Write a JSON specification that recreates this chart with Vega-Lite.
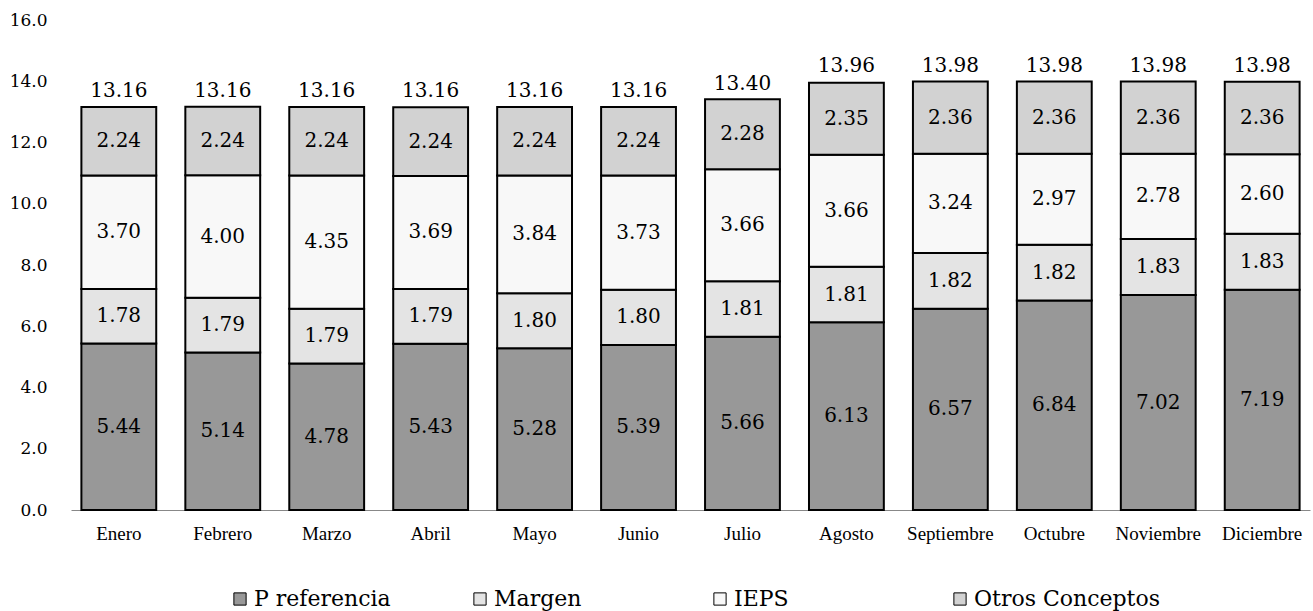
{
  "$schema": "https://vega.github.io/schema/vega-lite/v6.json",
  "width": 1239,
  "height": 490,
  "autosize": "none",
  "padding": {"left": 71, "top": 20, "right": 3, "bottom": 101},
  "background": "white",
  "config": {"view": {"stroke": null}},
  "datasets": {
    "seg": [
      {"mes": "Enero", "concepto": "P referencia", "valor": 5.44},
      {"mes": "Enero", "concepto": "Margen", "valor": 1.78},
      {"mes": "Enero", "concepto": "IEPS", "valor": 3.70},
      {"mes": "Enero", "concepto": "Otros Conceptos", "valor": 2.24},
      {"mes": "Febrero", "concepto": "P referencia", "valor": 5.14},
      {"mes": "Febrero", "concepto": "Margen", "valor": 1.79},
      {"mes": "Febrero", "concepto": "IEPS", "valor": 4.00},
      {"mes": "Febrero", "concepto": "Otros Conceptos", "valor": 2.24},
      {"mes": "Marzo", "concepto": "P referencia", "valor": 4.78},
      {"mes": "Marzo", "concepto": "Margen", "valor": 1.79},
      {"mes": "Marzo", "concepto": "IEPS", "valor": 4.35},
      {"mes": "Marzo", "concepto": "Otros Conceptos", "valor": 2.24},
      {"mes": "Abril", "concepto": "P referencia", "valor": 5.43},
      {"mes": "Abril", "concepto": "Margen", "valor": 1.79},
      {"mes": "Abril", "concepto": "IEPS", "valor": 3.69},
      {"mes": "Abril", "concepto": "Otros Conceptos", "valor": 2.24},
      {"mes": "Mayo", "concepto": "P referencia", "valor": 5.28},
      {"mes": "Mayo", "concepto": "Margen", "valor": 1.80},
      {"mes": "Mayo", "concepto": "IEPS", "valor": 3.84},
      {"mes": "Mayo", "concepto": "Otros Conceptos", "valor": 2.24},
      {"mes": "Junio", "concepto": "P referencia", "valor": 5.39},
      {"mes": "Junio", "concepto": "Margen", "valor": 1.80},
      {"mes": "Junio", "concepto": "IEPS", "valor": 3.73},
      {"mes": "Junio", "concepto": "Otros Conceptos", "valor": 2.24},
      {"mes": "Julio", "concepto": "P referencia", "valor": 5.66},
      {"mes": "Julio", "concepto": "Margen", "valor": 1.81},
      {"mes": "Julio", "concepto": "IEPS", "valor": 3.66},
      {"mes": "Julio", "concepto": "Otros Conceptos", "valor": 2.28},
      {"mes": "Agosto", "concepto": "P referencia", "valor": 6.13},
      {"mes": "Agosto", "concepto": "Margen", "valor": 1.81},
      {"mes": "Agosto", "concepto": "IEPS", "valor": 3.66},
      {"mes": "Agosto", "concepto": "Otros Conceptos", "valor": 2.35},
      {"mes": "Septiembre", "concepto": "P referencia", "valor": 6.57},
      {"mes": "Septiembre", "concepto": "Margen", "valor": 1.82},
      {"mes": "Septiembre", "concepto": "IEPS", "valor": 3.24},
      {"mes": "Septiembre", "concepto": "Otros Conceptos", "valor": 2.36},
      {"mes": "Octubre", "concepto": "P referencia", "valor": 6.84},
      {"mes": "Octubre", "concepto": "Margen", "valor": 1.82},
      {"mes": "Octubre", "concepto": "IEPS", "valor": 2.97},
      {"mes": "Octubre", "concepto": "Otros Conceptos", "valor": 2.36},
      {"mes": "Noviembre", "concepto": "P referencia", "valor": 7.02},
      {"mes": "Noviembre", "concepto": "Margen", "valor": 1.83},
      {"mes": "Noviembre", "concepto": "IEPS", "valor": 2.78},
      {"mes": "Noviembre", "concepto": "Otros Conceptos", "valor": 2.36},
      {"mes": "Diciembre", "concepto": "P referencia", "valor": 7.19},
      {"mes": "Diciembre", "concepto": "Margen", "valor": 1.83},
      {"mes": "Diciembre", "concepto": "IEPS", "valor": 2.60},
      {"mes": "Diciembre", "concepto": "Otros Conceptos", "valor": 2.36}
    ],
    "tot": [
      {"mes": "Enero", "total": 13.16},
      {"mes": "Febrero", "total": 13.16},
      {"mes": "Marzo", "total": 13.16},
      {"mes": "Abril", "total": 13.16},
      {"mes": "Mayo", "total": 13.16},
      {"mes": "Junio", "total": 13.16},
      {"mes": "Julio", "total": 13.40},
      {"mes": "Agosto", "total": 13.96},
      {"mes": "Septiembre", "total": 13.98},
      {"mes": "Octubre", "total": 13.98},
      {"mes": "Noviembre", "total": 13.98},
      {"mes": "Diciembre", "total": 13.98}
    ]
  },
  "encoding": {
    "x": {
      "field": "mes",
      "type": "nominal",
      "sort": ["Enero", "Febrero", "Marzo", "Abril", "Mayo", "Junio", "Julio", "Agosto", "Septiembre", "Octubre", "Noviembre", "Diciembre"],
      "scale": {"paddingInner": 0.28, "paddingOuter": 0.1},
      "axis": {
        "title": null,
        "ticks": false,
        "labelAngle": 0,
        "labelFont": "Liberation Serif",
        "labelFontSize": 19,
        "labelPadding": 14,
        "labelColor": "black",
        "domainColor": "#888888",
        "domainWidth": 1
      }
    }
  },
  "layer": [
    {
      "data": {"name": "seg"},
      "transform": [
        {"calculate": "indexof(['P referencia','Margen','IEPS','Otros Conceptos'], datum.concepto)", "as": "orden"}
      ],
      "mark": {"type": "bar", "stroke": "black", "strokeWidth": 2},
      "encoding": {
        "y": {
          "field": "valor",
          "type": "quantitative",
          "stack": "zero",
          "scale": {"domain": [0, 16]},
          "axis": {
            "title": null,
            "values": [0, 2, 4, 6, 8, 10, 12, 14, 16],
            "format": ".1f",
            "domain": false,
            "ticks": false,
            "grid": false,
            "labelPadding": 24,
            "labelFont": "DejaVu Serif",
            "labelFontSize": 17,
            "labelColor": "black"
          }
        },
        "color": {
          "field": "concepto",
          "type": "nominal",
          "scale": {
            "domain": ["P referencia", "Margen", "IEPS", "Otros Conceptos"],
            "range": ["#989898", "#e4e4e4", "#f8f8f8", "#d2d2d2"]
          },
          "legend": {
            "orient": "none",
            "legendX": 158,
            "legendY": 568,
            "direction": "horizontal",
            "columns": 4,
            "gridAlign": "all",
            "title": null,
            "symbolType": "square",
            "symbolSize": 150,
            "symbolStrokeColor": "black",
            "symbolStrokeWidth": 1,
            "labelFont": "DejaVu Serif",
            "labelFontSize": 22,
            "labelOffset": 3,
            "labelColor": "black",
            "columnPadding": 29,
            "labelLimit": 400
          }
        },
        "order": {"field": "orden", "type": "quantitative"}
      }
    },
    {
      "data": {"name": "seg"},
      "transform": [
        {"calculate": "indexof(['P referencia','Margen','IEPS','Otros Conceptos'], datum.concepto)", "as": "orden"},
        {"stack": "valor", "groupby": ["mes"], "sort": [{"field": "orden"}], "as": ["y0", "y1"]},
        {"calculate": "(datum.y0 + datum.y1) / 2", "as": "ymid"}
      ],
      "mark": {"type": "text", "font": "DejaVu Serif", "fontSize": 20, "baseline": "middle", "align": "center", "color": "black"},
      "encoding": {
        "y": {"field": "ymid", "type": "quantitative"},
        "text": {"field": "valor", "type": "quantitative", "format": ".2f"}
      }
    },
    {
      "data": {"name": "tot"},
      "mark": {"type": "text", "font": "DejaVu Serif", "fontSize": 20, "baseline": "alphabetic", "align": "center", "dy": -10, "color": "black"},
      "encoding": {
        "y": {"field": "total", "type": "quantitative"},
        "text": {"field": "total", "type": "quantitative", "format": ".2f"}
      }
    }
  ]
}
